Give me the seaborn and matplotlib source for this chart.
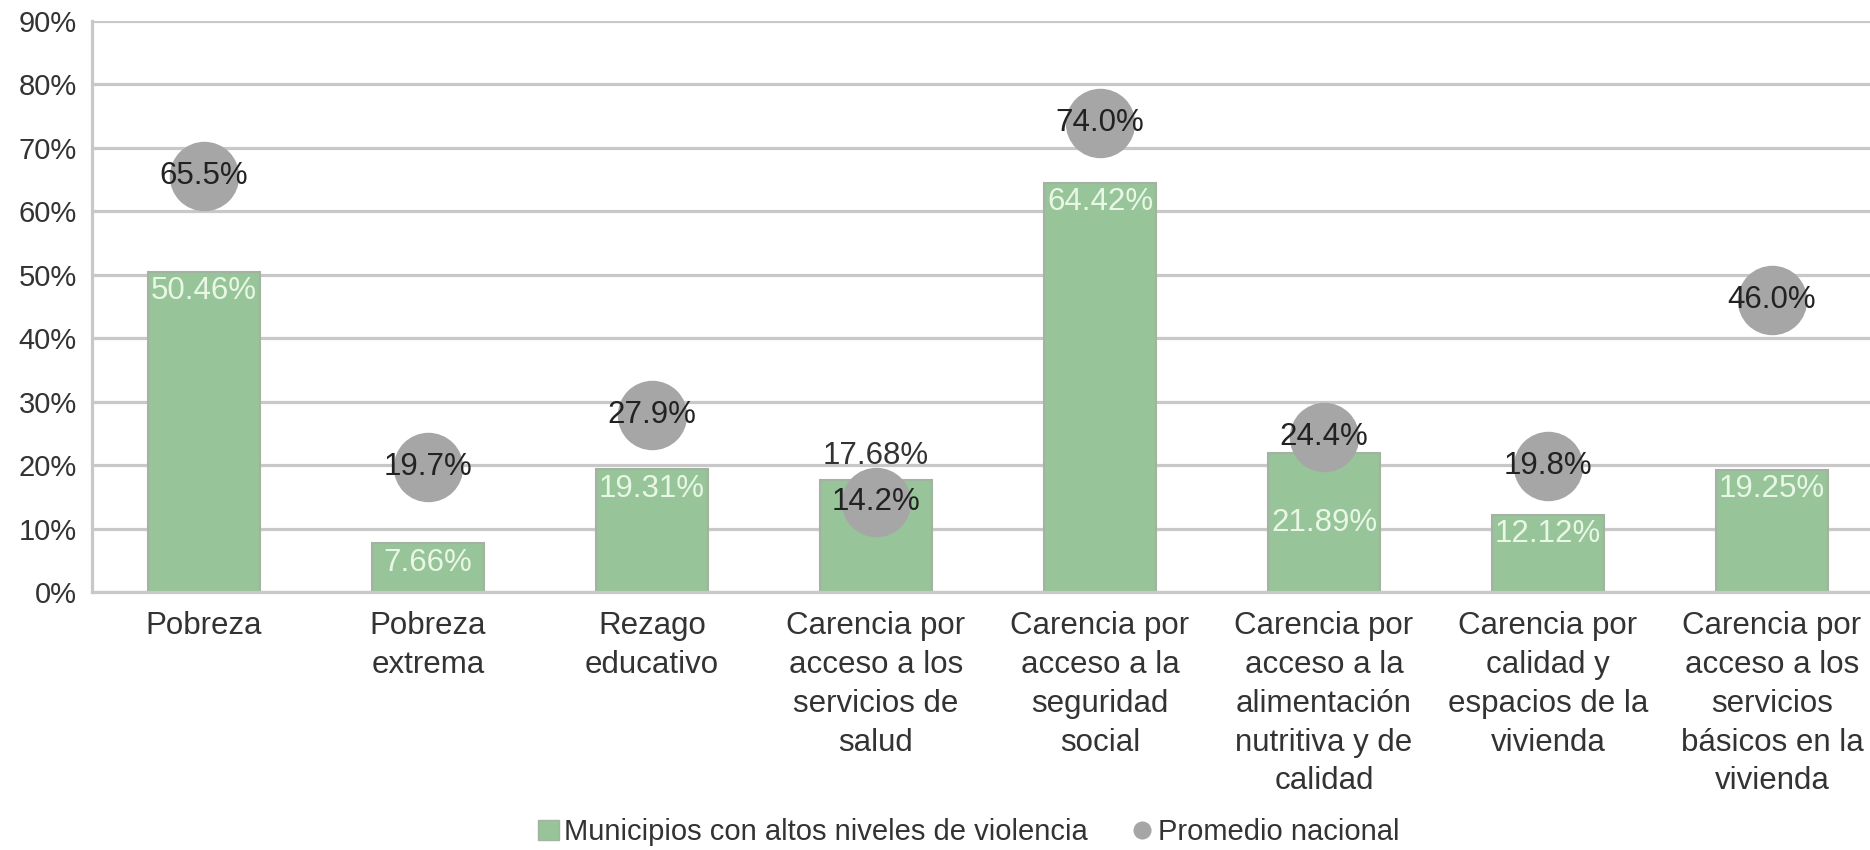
import matplotlib
matplotlib.use("Agg")
import matplotlib.pyplot as plt
import seaborn as sns
import pandas as pd
from matplotlib.lines import Line2D
from matplotlib.patches import Patch

categorias = ["Pobreza",
              "Pobreza\nextrema",
              "Rezago\neducativo",
              "Carencia por\nacceso a los\nservicios de\nsalud",
              "Carencia por\nacceso a la\nseguridad\nsocial",
              "Carencia por\nacceso a la\nalimentación\nnutritiva y de\ncalidad",
              "Carencia por\ncalidad y\nespacios de la\nvivienda",
              "Carencia por\nacceso a los\nservicios\nbásicos en la\nvivienda"]
municipios = [50.46, 7.66, 19.31, 17.68, 64.42, 21.89, 12.12, 19.25]
nacional = [65.5, 19.7, 27.9, 14.2, 74.0, 24.4, 19.8, 46.0]
etiquetas_y = [0, 10, 20, 30, 40, 50, 60, 70, 80, 90]

verde = "#98c49a"
gris = "#a6a6a6"
texto = "#333333"

sns.set_theme(style="white")
plt.rcParams["font.family"] = ["Liberation Sans", "DejaVu Sans"]

df = pd.DataFrame({"cat": categorias, "mun": municipios, "nac": nacional})

fig = plt.figure(figsize=(18.7, 8.5), dpi=100)
ax = fig.add_axes([92 / 1870, 258 / 850, 1792 / 1870, 571 / 850])

sns.barplot(data=df, x="cat", y="mun", color=verde, width=0.5, saturation=1,
            edgecolor="#a3b2a3", linewidth=1.5, ax=ax, zorder=2)
sns.pointplot(data=df, x="cat", y="nac", color=gris, linestyle="none",
              marker="o", markersize=50, markeredgewidth=0, ax=ax, zorder=3)

# etiquetas de las barras
for i, v in enumerate(municipios):
    if i == 3:
        ax.annotate(f"{v:.2f}%", (i, v), xytext=(0, 6), textcoords="offset points",
                    ha="center", va="bottom", fontsize=22.5, color=texto, zorder=5)
    elif i == 5:
        ax.text(i, v / 2, f"{v:.2f}%", ha="center", va="center",
                fontsize=22.5, color="#e9f7e5", zorder=4)
    else:
        ax.annotate(f"{v:.2f}%", (i, v), xytext=(0, -3), textcoords="offset points",
                    ha="center", va="top", fontsize=22.5, color="#e9f7e5", zorder=4)

# etiquetas del promedio nacional
for i, v in enumerate(nacional):
    ax.text(i, v, f"{v:.1f}%", ha="center", va="center", fontsize=22.5,
            color="#222222", zorder=6)

ax.set_ylim(0, 90)
ax.set_xlim(-0.5, len(categorias) - 0.5)
ax.set_yticks(etiquetas_y)
ax.set_yticklabels([f"{t}%" for t in etiquetas_y])
ax.yaxis.grid(True, color="#c8c8c8", linewidth=2.3, zorder=0)
ax.set_axisbelow(True)
ax.tick_params(axis="x", length=0, labelsize=22.5, labelcolor=texto, pad=14)
ax.tick_params(axis="y", length=0, labelsize=21, labelcolor=texto, pad=11)
for lbl in ax.get_xticklabels():
    lbl.set_linespacing(1.38)
ax.set_xlabel("")
ax.set_ylabel("")
for s in ["top", "right"]:
    ax.spines[s].set_visible(False)
for s in ["left", "bottom"]:
    ax.spines[s].set_color("#c8c8c8")
    ax.spines[s].set_linewidth(2.3)

handles = [Patch(facecolor=verde, edgecolor="#a3b2a3", label="Municipios con altos niveles de violencia"),
           Line2D([], [], marker="o", linestyle="none", color=gris, markersize=12,
                  label="Promedio nacional")]
fig.legend(handles=handles, loc="center", bbox_to_anchor=(969 / 1870, 1 - 832 / 850),
           ncol=2, frameon=False, fontsize=21, handlelength=0.7, handletextpad=0.2,
           columnspacing=1.5, labelcolor=texto)

fig.savefig("out.png", dpi=100)
